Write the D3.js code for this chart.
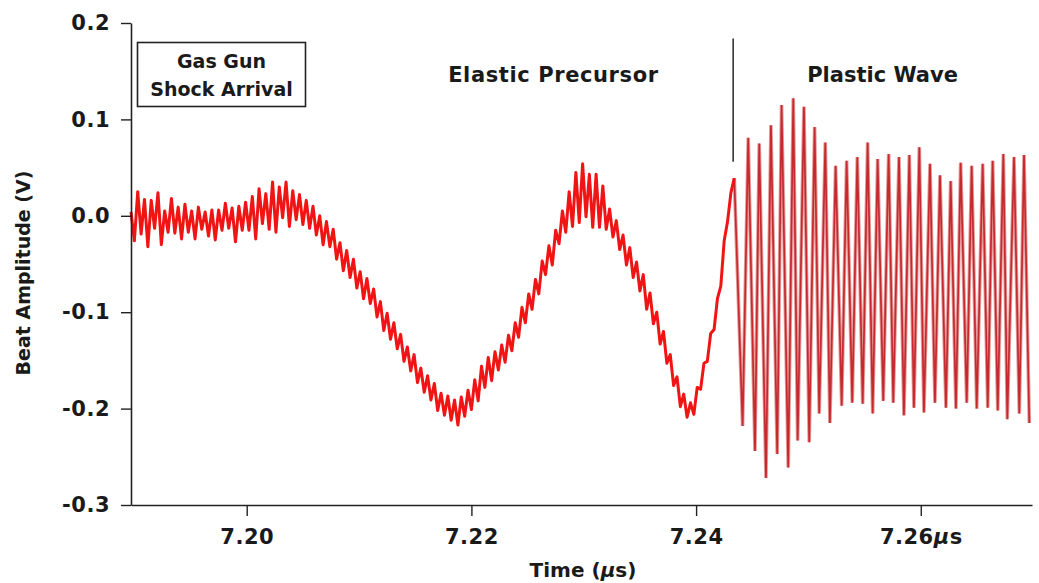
<!DOCTYPE html>
<html>
<head>
<meta charset="utf-8">
<script src="https://cdn.jsdelivr.net/npm/d3@7"></script>
<style>
  html, body { margin: 0; padding: 0; background: #fff; }
  svg { display: block; }
  text { font-family: "DejaVu Sans", sans-serif; fill: #1a1a1a; }
</style>
</head>
<body>
<svg id="chart" width="1039" height="583"></svg>
<script>
// ---------- data ----------
const xDomain = [7.1897, 7.2699];          // time axis (µs)
const yDomain = [-0.3, 0.2];               // beat amplitude (V)
const xTicks = [7.20, 7.22, 7.24, 7.26];
const xTickLabels = ["7.20", "7.22", "7.24", "7.26"];
const yTicks = [0.2, 0.1, 0.0, -0.1, -0.2, -0.3];
const yTickLabels = ["0.2", "0.1", "0.0", "-0.1", "-0.2", "-0.3"];

// elastic precursor: sampled every 0.0003 µs starting at 7.1897 µs
const elasticStart = 7.1897;
const elasticStep = 0.0003;
const elasticValues = [
  0.004, -0.026, 0.025, -0.019, 0.017, -0.032, 0.016, -0.013, 0.024, -0.030,
  0.005, -0.017, 0.018, -0.018, 0.009, -0.024, 0.012, -0.017, 0.005, -0.024,
  0.009, -0.014, 0.004, -0.021, 0.006, -0.025, 0.006, -0.015, 0.013, -0.013,
  0.008, -0.027, 0.010, -0.015, 0.014, -0.015, 0.020, -0.024, 0.028, -0.008,
  0.023, -0.014, 0.035, -0.017, 0.030, -0.002, 0.035, -0.011, 0.026, -0.004,
  0.022, -0.009, 0.016, -0.013, 0.010, -0.020, 0.000, -0.030, -0.006, -0.032,
  -0.014, -0.045, -0.028, -0.057, -0.036, -0.064, -0.045, -0.075, -0.058, -0.086,
  -0.065, -0.091, -0.076, -0.105, -0.089, -0.119, -0.101, -0.128, -0.111, -0.138,
  -0.123, -0.151, -0.136, -0.161, -0.144, -0.173, -0.158, -0.183, -0.166, -0.191,
  -0.174, -0.202, -0.184, -0.207, -0.187, -0.212, -0.191, -0.217, -0.188, -0.208,
  -0.181, -0.201, -0.170, -0.192, -0.156, -0.178, -0.147, -0.171, -0.141, -0.160,
  -0.134, -0.152, -0.124, -0.140, -0.111, -0.126, -0.095, -0.111, -0.081, -0.097,
  -0.066, -0.081, -0.047, -0.061, -0.031, -0.051, -0.015, -0.029, 0.005, -0.017,
  0.025, -0.011, 0.045, -0.007, 0.054, -0.001, 0.043, -0.012, 0.043, -0.012,
  0.031, -0.014, 0.007, -0.022, -0.005, -0.035, -0.020, -0.051, -0.033, -0.064,
  -0.048, -0.078, -0.061, -0.097, -0.080, -0.112, -0.100, -0.133, -0.120, -0.153,
  -0.144, -0.176, -0.167, -0.198, -0.185, -0.209, -0.194, -0.206, -0.178, -0.180,
  -0.153, -0.151, -0.122, -0.118, -0.086, -0.073, -0.026, -0.006, 0.024, 0.039
];

// plastic wave: alternating troughs and peaks (time µs, value V)
const plasticTimes = [
  7.24414, 7.24464, 7.24524, 7.24562, 7.24622, 7.24666, 7.24722, 7.24761, 7.24820, 7.24865,
  7.24904, 7.24960, 7.25007, 7.25055, 7.25096, 7.25150, 7.25191, 7.25242, 7.25296, 7.25340,
  7.25390, 7.25435, 7.25483, 7.25527, 7.25572, 7.25616, 7.25666, 7.25714, 7.25755, 7.25806,
  7.25850, 7.25898, 7.25939, 7.25987, 7.26028, 7.26082, 7.26126, 7.26171, 7.26224, 7.26266,
  7.26313, 7.26355, 7.26409, 7.26453, 7.26498, 7.26551, 7.26596, 7.26640, 7.26685, 7.26735,
  7.26770, 7.26830, 7.26877, 7.26919, 7.26966
];
const plasticValues = [
  -0.218, 0.081, -0.244, 0.075, -0.272, 0.094, -0.247, 0.115, -0.261, 0.122,
  -0.233, 0.113, -0.235, 0.092, -0.205, 0.076, -0.215, 0.052, -0.197, 0.057,
  -0.194, 0.061, -0.195, 0.076, -0.205, 0.059, -0.192, 0.064, -0.194, 0.061,
  -0.207, 0.063, -0.199, 0.071, -0.204, 0.054, -0.194, 0.042, -0.199, 0.036,
  -0.200, 0.055, -0.194, 0.052, -0.200, 0.054, -0.199, 0.057, -0.202, 0.064,
  -0.211, 0.061, -0.205, 0.063, -0.215
];

// annotation values
const markerTime = 7.2433;
const markerRange = [0.184, 0.056];
const boxLines = ["Gas Gun", "Shock Arrival"];
const labelElastic = "Elastic Precursor";
const labelPlastic = "Plastic Wave";
const labelElasticTime = 7.2273;
const labelPlasticTime = 7.2566;
const labelValue = 0.139;
const xTitle = "Time (\u03bcs)";
const yTitle = "Beat Amplitude (V)";

// ---------- drawing ----------
const svg = d3.select("#chart");
const margin = { left: 131, right: 7, top: 23, bottom: 78 };
const W = 1039, H = 583;

const x = d3.scaleLinear().domain(xDomain).range([margin.left, W - margin.right]);
const y = d3.scaleLinear().domain(yDomain).range([H - margin.bottom, margin.top]);

const elastic = elasticValues.map((v, i) => ({ t: elasticStart + i * elasticStep, v }));
const plastic = [elastic[elastic.length - 1]].concat(
  plasticTimes.map((t, i) => ({ t, v: plasticValues[i] })));

const line = d3.line().x(d => x(d.t)).y(d => y(d.v));

// soft halo under the plastic trace, then the trace itself
svg.append("path").datum(plastic)
  .attr("d", line)
  .attr("fill", "none")
  .attr("stroke", "#e79a9a")
  .attr("stroke-width", 3.6)
  .attr("stroke-linejoin", "miter");
svg.append("path").datum(plastic)
  .attr("d", line)
  .attr("fill", "none")
  .attr("stroke", "#c42a2e")
  .attr("stroke-width", 1.7)
  .attr("stroke-linejoin", "miter");

svg.append("path").datum(elastic)
  .attr("d", line)
  .attr("fill", "none")
  .attr("stroke", "#f01414")
  .attr("stroke-width", 3)
  .attr("stroke-linejoin", "round");

// axes
const xAxis = d3.axisBottom(x)
  .tickValues(xTicks)
  .tickFormat((d, i) => xTickLabels[i])
  .tickSize(11).tickSizeOuter(0).tickPadding(13);
const gx = svg.append("g").attr("transform", `translate(0,${y(yDomain[0])})`).call(xAxis);

const yAxis = d3.axisLeft(y)
  .tickValues(yTicks)
  .tickFormat((d, i) => yTickLabels[i])
  .tickSize(10).tickSizeOuter(0).tickPadding(11);
const gy = svg.append("g").attr("transform", `translate(${x(xDomain[0])},0)`).call(yAxis);

[gx, gy].forEach(g => {
  g.select(".domain").attr("stroke", "#222").attr("stroke-width", 1.6);
  g.selectAll(".tick line").attr("stroke", "#222").attr("stroke-width", 1.4);
  g.selectAll(".tick text")
    .attr("font-family", "DejaVu Sans, sans-serif")
    .attr("font-size", 21).attr("font-weight", "bold").attr("fill", "#1a1a1a")
    .attr("letter-spacing", 0.5);
});

// unit suffix on the last x tick
gx.selectAll(".tick text").filter((d, i) => i === xTicks.length - 1)
  .each(function () {
    const t = d3.select(this);
    const base = t.text();
    t.text(null);
    t.append("tspan").text(base);
    t.append("tspan").attr("font-style", "italic").text("\u03bc");
    t.append("tspan").text("s");
  });

// axis titles
const xt = svg.append("text")
  .attr("x", 583).attr("y", 577)
  .attr("text-anchor", "middle")
  .attr("font-size", 20).attr("font-weight", "bold");
xt.append("tspan").text("Time (");
xt.append("tspan").attr("font-style", "italic").text("\u03bc");
xt.append("tspan").text("s)");

svg.append("text")
  .attr("transform", `translate(30,273) rotate(-90)`)
  .attr("text-anchor", "middle")
  .attr("font-size", 19).attr("font-weight", "bold")
  .text(yTitle);

// marker line separating elastic and plastic
svg.append("line")
  .attr("x1", x(markerTime)).attr("x2", x(markerTime))
  .attr("y1", y(markerRange[0])).attr("y2", y(markerRange[1]))
  .attr("stroke", "#333").attr("stroke-width", 1.6);

// region labels
svg.append("text")
  .attr("x", x(labelElasticTime)).attr("y", y(labelValue))
  .attr("text-anchor", "middle").attr("font-size", 21).attr("font-weight", "bold")
  .attr("letter-spacing", 0.6)
  .text(labelElastic);
svg.append("text")
  .attr("x", x(labelPlasticTime)).attr("y", y(labelValue))
  .attr("text-anchor", "middle").attr("font-size", 21).attr("font-weight", "bold")
  .text(labelPlastic);

// box annotation
const box = svg.append("g");
box.append("rect")
  .attr("x", 137.5).attr("y", 42.5).attr("width", 168).attr("height", 64)
  .attr("fill", "#fff").attr("stroke", "#222").attr("stroke-width", 1.6);
boxLines.forEach((s, i) => {
  box.append("text")
    .attr("x", 221.5).attr("y", 68 + i * 28)
    .attr("text-anchor", "middle").attr("font-size", 19).attr("font-weight", "bold")
    .text(s);
});
</script>
</body>
</html>
